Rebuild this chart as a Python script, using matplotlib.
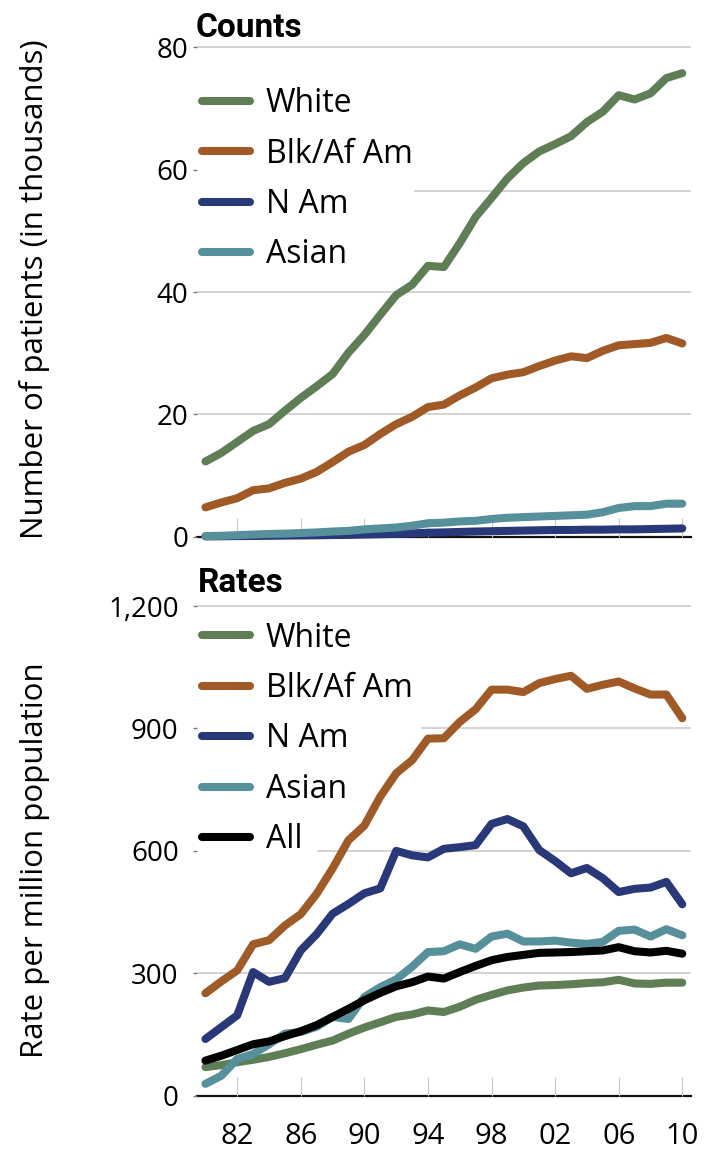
import matplotlib
matplotlib.use("Agg")
import matplotlib.pyplot as plt

# ---------------- data ----------------
years = list(range(1980, 2011))
series_names = ["White", "Blk/Af Am", "N Am", "Asian"]
rate_names = ["White", "Blk/Af Am", "N Am", "Asian", "All"]

count_white = [12.3, 13.7, 15.5, 17.3, 18.4, 20.6, 22.7, 24.6, 26.6, 30.1, 33.0, 36.3, 39.5, 41.2, 44.3,
               44.1, 48.0, 52.3, 55.4, 58.6, 61.1, 63.0, 64.2, 65.5, 67.8, 69.5, 72.2, 71.5, 72.5, 75.0, 75.8]
count_blk = [4.8, 5.6, 6.3, 7.6, 7.9, 8.8, 9.5, 10.6, 12.2, 13.9, 15.0, 16.8, 18.4, 19.6, 21.2,
             21.6, 23.1, 24.4, 25.9, 26.5, 26.9, 27.9, 28.8, 29.5, 29.2, 30.4, 31.3, 31.5, 31.7, 32.5, 31.6]
count_nam = [0.05, 0.07, 0.1, 0.12, 0.15, 0.18, 0.2, 0.23, 0.27, 0.3, 0.35, 0.4, 0.45, 0.55, 0.65,
             0.7, 0.78, 0.85, 0.9, 0.95, 1.0, 1.05, 1.1, 1.1, 1.15, 1.15, 1.2, 1.2, 1.25, 1.3, 1.35]
count_asian = [0.1, 0.15, 0.25, 0.35, 0.45, 0.5, 0.6, 0.7, 0.85, 0.95, 1.2, 1.35, 1.5, 1.8, 2.2,
               2.3, 2.5, 2.6, 2.9, 3.1, 3.2, 3.3, 3.4, 3.5, 3.6, 4.0, 4.7, 5.0, 5.0, 5.4, 5.4]

rate_white = [70, 75, 82, 88, 95, 104, 114, 125, 135, 152, 167, 180, 193, 199, 209,
              205, 218, 235, 247, 258, 265, 270, 271, 273, 276, 278, 284, 275, 274, 277, 277]
rate_blk = [251, 280, 307, 371, 381, 417, 445, 495, 557, 626, 662, 733, 790, 822, 875,
            876, 916, 947, 995, 995, 989, 1011, 1021, 1029, 997, 1007, 1015, 998, 983, 983, 925]
rate_nam = [139, 168, 197, 303, 279, 288, 356, 396, 446, 470, 496, 508, 600, 589, 584,
            605, 609, 614, 666, 678, 660, 602, 575, 545, 558, 533, 499, 507, 510, 524, 469]
rate_asian = [29, 49, 90, 102, 126, 152, 156, 169, 193, 188, 242, 266, 285, 316, 352,
              354, 371, 360, 390, 397, 378, 378, 380, 375, 372, 377, 404, 407, 390, 408, 393]
rate_all = [86, 98, 112, 126, 133, 146, 158, 173, 193, 213, 234, 252, 268, 278, 292,
            287, 303, 318, 332, 340, 345, 350, 351, 352, 354, 356, 364, 354, 351, 355, 348]

xtick_years = [1982, 1986, 1990, 1994, 1998, 2002, 2006, 2010]
xtick_labels = ["82", "86", "90", "94", "98", "02", "06", "10"]
count_ticks = [0, 20, 40, 60, 80]
count_ticklabels = ["0", "20", "40", "60", "80"]
rate_ticks = [0, 300, 600, 900, 1200]
rate_ticklabels = ["0", "300", "600", "900", "1,200"]

# ---------------- style ----------------
colors = {"White": "#5f7e56", "Blk/Af Am": "#a05a26", "N Am": "#293878",
          "Asian": "#55909b", "All": "#000000"}
plt.rcParams["font.family"] = ["Open Sans", "DejaVu Sans"]
title_font = ["Roboto", "Open Sans", "DejaVu Sans"]
LW = 5.8
TICKFS = 20
GRID = "#c9c9c9"

W, H = 711, 1151
fig = plt.figure(figsize=(W / 100, H / 100), dpi=100)
left = 196.7 / W
width = 494 / W
ax1 = fig.add_axes([left, 1 - 536.7 / H, width, 489.2 / H])
ax2 = fig.add_axes([left, 1 - 1095.7 / H, width, 489.7 / H])


def style_axes(ax, ylim, ticks, ticklabels, show_xlabels, ypad):
    ax.set_xlim(1979.45, 2010.53)
    ax.set_ylim(*ylim)
    for s in ["top", "right", "left"]:
        ax.spines[s].set_visible(False)
    ax.spines["bottom"].set_linewidth(1.6)
    ax.spines["bottom"].set_color("#111111")
    ax.spines["bottom"].set_zorder(1)
    ax.set_xticks(xtick_years)
    ax.set_xticklabels(xtick_labels if show_xlabels else [])
    ax.tick_params(axis="x", direction="in", length=14, width=0.8, color=GRID,
                   labelsize=TICKFS + 1, pad=19, labelbottom=show_xlabels)
    ax.set_yticks(ticks)
    ax.set_yticklabels(ticklabels)
    ax.tick_params(axis="y", direction="out", length=3, width=1.0, color="#777777",
                   labelsize=TICKFS, pad=ypad)


style_axes(ax1, (0, 80), count_ticks, count_ticklabels, False, 3)
style_axes(ax2, (0, 1200), rate_ticks, rate_ticklabels, True, 10)

# gridlines (partially hidden behind legend entries in the reference)
ax1.hlines(80, 0, 1, transform=ax1.get_yaxis_transform(), color=GRID, lw=1.1, zorder=0, clip_on=False)
ax1.hlines(56.6, 0.44, 1, transform=ax1.get_yaxis_transform(), color=GRID, lw=1.1, zorder=0)
ax1.hlines(40, 0, 1, transform=ax1.get_yaxis_transform(), color=GRID, lw=1.1, zorder=0)
ax1.hlines(20, 0, 1, transform=ax1.get_yaxis_transform(), color=GRID, lw=1.1, zorder=0)

ax2.hlines(1200, 0, 1, transform=ax2.get_yaxis_transform(), color=GRID, lw=1.1, zorder=0, clip_on=False)
ax2.hlines(900, 0.455, 1, transform=ax2.get_yaxis_transform(), color=GRID, lw=1.1, zorder=0)
ax2.hlines(600, 0.243, 1, transform=ax2.get_yaxis_transform(), color=GRID, lw=1.1, zorder=0)
ax2.hlines(300, 0, 1, transform=ax2.get_yaxis_transform(), color=GRID, lw=1.1, zorder=0)

line_kw = dict(lw=LW, solid_capstyle="round", solid_joinstyle="round", clip_on=False)

for name, vals in zip(series_names, [count_white, count_blk, count_nam, count_asian]):
    ax1.plot(years, vals, color=colors[name], label=name, zorder=3, **line_kw)

for name, vals in zip(rate_names, [rate_white, rate_blk, rate_nam, rate_asian, rate_all]):
    ax2.plot(years, vals, color=colors[name], label=name, zorder=3, **line_kw)

leg_kw = dict(loc="upper left", frameon=False, fontsize=23, handlelength=1.5,
              handletextpad=0.5, labelspacing=0.545, borderpad=0, borderaxespad=0)
ax1.legend(bbox_to_anchor=(0.01, 0.919), **leg_kw)
ax2.legend(bbox_to_anchor=(0.01, 0.968), **leg_kw)

# titles
fig.text(196 / W, 1 - 37 / H, "Counts", family=title_font, weight="bold", fontsize=24,
         ha="left", va="baseline")
fig.text(198 / W, 1 - 592 / H, "Rates", family=title_font, weight="bold", fontsize=24,
         ha="left", va="baseline")

# y-axis labels
fig.text(35 / W, 1 - 289.5 / H, "Number of patients (in thousands)", rotation=90,
         fontsize=22.5, ha="center", va="center")
fig.text(35 / W, 1 - 860 / H, "Rate per million population", rotation=90,
         fontsize=22.5, ha="center", va="center")

fig.savefig("out.png", dpi=100)
